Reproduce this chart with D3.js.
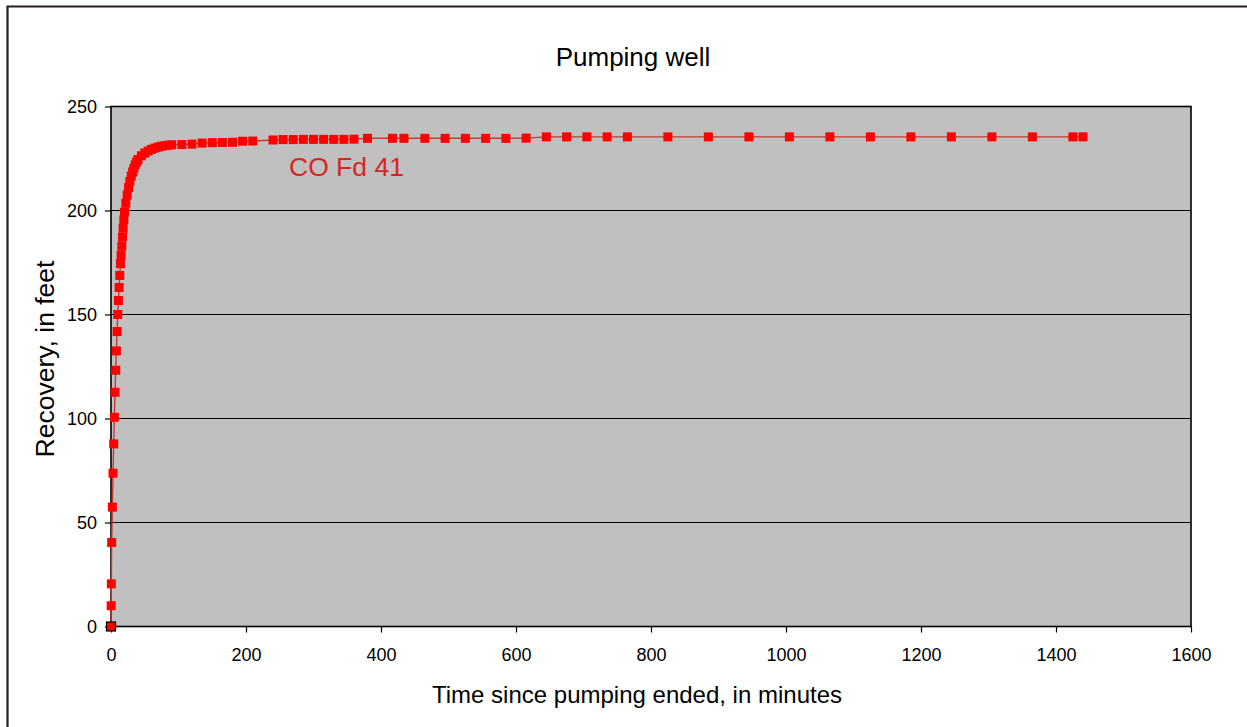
<!DOCTYPE html>
<html>
  <head>
    <meta charset="utf-8">
    <script type="text/javascript" src="https://cdnjs.cloudflare.com/ajax/libs/d3/7.8.5/d3.min.js"></script>
    <style>
      body { margin: 0; background: #fff; }
      text { font-family: "Liberation Sans", Arial, sans-serif; }
    </style>
  </head>
  <body>
  </body>
<script>
// recovery of the pumping well after the pump was shut off

// time since pumping ended, minutes
let times = [0, 0.25, 0.5, 1, 2, 3, 4, 5, 6, 7, 8, 9, 10, 11, 12, 13, 14, 15, 16, 17, 18, 19, 20,
    22, 24, 26, 28, 30, 32, 34, 36, 38, 40, 45, 50, 55, 60, 65, 70, 75, 80, 85, 90,
    105, 120, 135, 150, 165, 180, 195, 210, 240, 255, 270, 285, 300, 315, 330, 345, 360,
    380, 417, 434, 465, 495, 525, 555, 585, 615, 645, 675, 705, 735, 765,
    825, 885, 945, 1005, 1065, 1125, 1185, 1245, 1305, 1365, 1425, 1440];

// recovery, feet
let recovery = [0, 10, 20.5, 40.4, 57.4, 73.7, 87.8, 100.6, 112.6, 123.2, 132.5, 141.8, 150, 156.7, 163, 168.8, 174.4, 178.4, 182.8, 187.2, 191.5, 195.5, 199.2,
    203.5, 207.5, 211, 214, 216.5, 218.5, 220.3, 222, 223.3, 224.5, 226.3, 227.6, 228.6, 229.4, 230, 230.5, 230.9, 231.2, 231.4, 231.6,
    231.7, 231.9, 232.4, 232.6, 232.7, 232.8, 233.3, 233.4, 233.9, 234.1, 234.1, 234.2, 234.2, 234.2, 234.2, 234.2, 234.3,
    234.7, 234.7, 234.7, 234.7, 234.7, 234.7, 234.7, 234.7, 234.8, 235.4, 235.4, 235.4, 235.4, 235.4,
    235.4, 235.4, 235.4, 235.4, 235.4, 235.4, 235.4, 235.4, 235.4, 235.4, 235.4, 235.4];

let xTicks = [0, 200, 400, 600, 800, 1000, 1200, 1400, 1600];
let yTicks = [0, 50, 100, 150, 200, 250];
let seriesName = "CO Fd 41";

let points = times.map(function(t, i){ return {t: t, v: recovery[i]}; });

let width = 1247, height = 727;
let plot = {left: 111, top: 106.5, right: 1191, bottom: 626.5};

let svg = d3.select("body").append("svg")
    .attr("width", width)
    .attr("height", height);

// outer frame (only top and left edges show in the picture)
svg.append("path")
    .attr("d", "M7.5," + height + "V6.5H" + width)
    .attr("fill", "none")
    .attr("stroke", "#231f20")
    .attr("stroke-width", 2.2);

let x = d3.scaleLinear().domain([0, 1600]).range([plot.left, plot.right]);
let y = d3.scaleLinear().domain([0, 250]).range([plot.bottom, plot.top]);

// grey plot area
svg.append("rect")
    .attr("x", plot.left)
    .attr("y", plot.top)
    .attr("width", plot.right - plot.left)
    .attr("height", plot.bottom - plot.top)
    .attr("fill", "#c0c0c0");

// horizontal gridlines
svg.append("g").selectAll("line")
    .data(yTicks.slice(1, -1))
    .enter()
    .append("line")
        .attr("x1", plot.left)
        .attr("x2", plot.right)
        .attr("y1", function(d){ return y(d); })
        .attr("y2", function(d){ return y(d); })
        .attr("stroke", "#000")
        .attr("stroke-width", 1.1);

// plot border
svg.append("rect")
    .attr("x", plot.left)
    .attr("y", plot.top)
    .attr("width", plot.right - plot.left)
    .attr("height", plot.bottom - plot.top)
    .attr("fill", "none")
    .attr("stroke", "#000")
    .attr("stroke-width", 1.6);

// axes
let xAxis = svg.append("g")
    .attr("transform", "translate(0," + plot.bottom + ")")
    .call(d3.axisBottom(x).tickValues(xTicks).tickFormat(d3.format("d"))
        .tickSize(6).tickPadding(16).tickSizeOuter(0));
let yAxis = svg.append("g")
    .attr("transform", "translate(" + plot.left + ",0)")
    .call(d3.axisLeft(y).tickValues(yTicks).tickFormat(d3.format("d"))
        .tickSize(6).tickPadding(8).tickSizeOuter(0));

[xAxis, yAxis].forEach(function(a){
    a.select(".domain").remove();
    a.selectAll("line").attr("stroke", "#000").attr("stroke-width", 1.2);
    a.selectAll("text")
        .attr("fill", "#000")
        .style("font-size", "18px")
        .style("font-family", "'Liberation Sans', Arial, sans-serif");
});

// the series line
let lineFunction = d3.line()
    .x(function(d){ return x(d.t); })
    .y(function(d){ return y(d.v); });

svg.append("path")
    .attr("d", lineFunction(points))
    .attr("fill", "none")
    .attr("stroke", "#c8392e")
    .attr("stroke-width", 1.4);

// square markers
let m = 9;
svg.append("g").selectAll("rect")
    .data(points)
    .enter()
    .append("rect")
        .attr("x", function(d){ return x(d.t) - m / 2; })
        .attr("y", function(d){ return y(d.v) - m / 2; })
        .attr("width", m)
        .attr("height", m)
        .attr("fill", "#ff0000")
        .attr("stroke", function(d, i){ return i === 0 ? "#000" : "none"; })
        .attr("stroke-width", 1.2);

// series label
svg.append("text")
    .attr("x", 289)
    .attr("y", 176)
    .attr("fill", "#d7261e")
    .style("font-size", "26.5px")
    .text(seriesName);

// titles
svg.append("text")
    .attr("x", 633)
    .attr("y", 66)
    .attr("text-anchor", "middle")
    .style("font-size", "26px")
    .text("Pumping well");

svg.append("text")
    .attr("x", 637)
    .attr("y", 703)
    .attr("text-anchor", "middle")
    .style("font-size", "24px")
    .text("Time since pumping ended, in minutes");

svg.append("text")
    .attr("transform", "translate(54,359) rotate(-90)")
    .attr("text-anchor", "middle")
    .style("font-size", "26.5px")
    .text("Recovery, in feet");
</script>
</html>
